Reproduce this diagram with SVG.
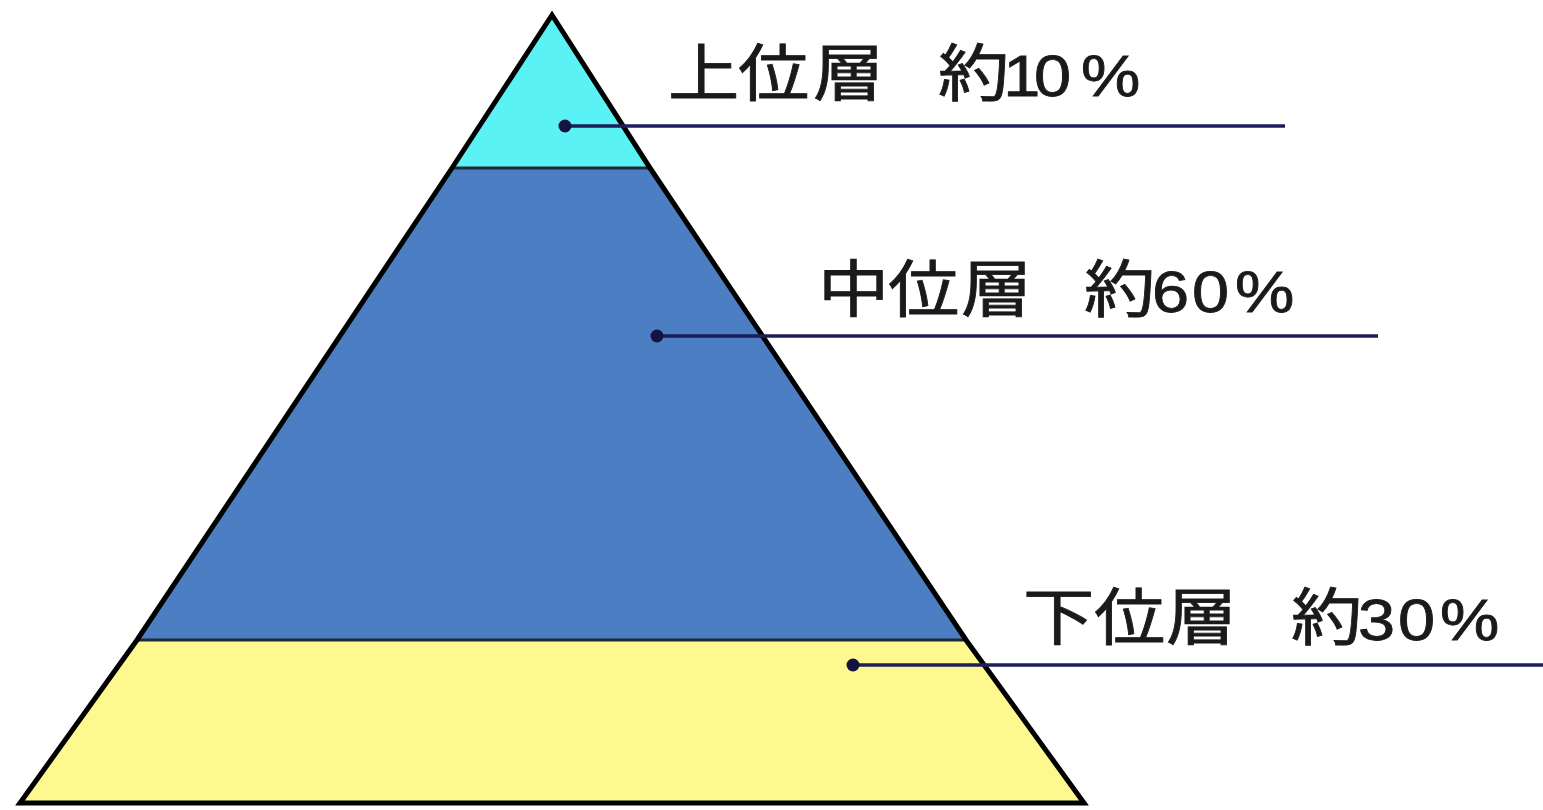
<svg xmlns="http://www.w3.org/2000/svg" width="1543" height="810" viewBox="0 0 1543 810">
<style>
.cj{font-family:"Noto Sans CJK JP","Noto Sans CJK SC",sans-serif;font-size:62px;fill:#1a1a1a;stroke:#1a1a1a;stroke-width:0.8}
.num{font-family:"Liberation Sans",Arial,sans-serif;font-size:58px;fill:#1a1a1a;stroke:#1a1a1a;stroke-width:0.8}
.band{stroke:#1e2a36;stroke-width:3}
.lead{stroke:#1e1e5a;stroke-width:3.5;fill:none}
.dot{fill:#141440}
</style>
<rect width="1543" height="810" fill="#ffffff"/>
<g id="layer-top">
<polygon points="552,15 452,168 650,168" fill="#5af2f4"/>
</g>
<g id="layer-middle">
<polygon points="452,168 650,168 966,640 137,640" fill="#4b7ec2"/>
</g>
<g id="layer-bottom">
<polygon points="137,640 966,640 1084,803 20,803" fill="#fdf98e"/>
</g>
<g id="boundaries">
<line class="band" x1="452" y1="168" x2="650" y2="168"/>
<line class="band" x1="137" y1="640" x2="966" y2="640"/>
</g>
<g id="outline">
<polygon points="552,15 452,168 137,640 20,803 1084,803 966,640 650,168" fill="none" stroke="#000000" stroke-width="5" stroke-linejoin="miter"/>
</g>
<g id="connectors">
<line class="lead" x1="565" y1="126" x2="1285" y2="126"/>
<circle class="dot" cx="565" cy="126" r="6.5"/>
<line class="lead" x1="657" y1="336" x2="1378" y2="336"/>
<circle class="dot" cx="657" cy="336" r="6.5"/>
<line class="lead" x1="853" y1="665" x2="1543" y2="665"/>
<circle class="dot" cx="853" cy="665" r="6.5"/>
</g>
<g id="label-top" transform="translate(668,96) scale(1.15,1)">
<text y="0"><tspan class="cj" x="0 60.9 126.1 187 234.8">上位層　約</tspan><tspan class="num" x="291.5 318.3 359.1">10%</tspan></text>
</g>
<g id="label-middle" transform="translate(818,312) scale(1.15,1)">
<text y="0"><tspan class="cj" x="0 60.9 124.3 185 231.3">中位層　約</tspan><tspan class="num" x="290.4 325.2 362.6">60%</tspan></text>
</g>
<g id="label-bottom" transform="translate(1023,640) scale(1.15,1)">
<text y="0"><tspan class="cj" x="0 61.7 124.3 185 233">下位層　約</tspan><tspan class="num" x="291.3 326.1 362.6">30%</tspan></text>
</g>
</svg>
